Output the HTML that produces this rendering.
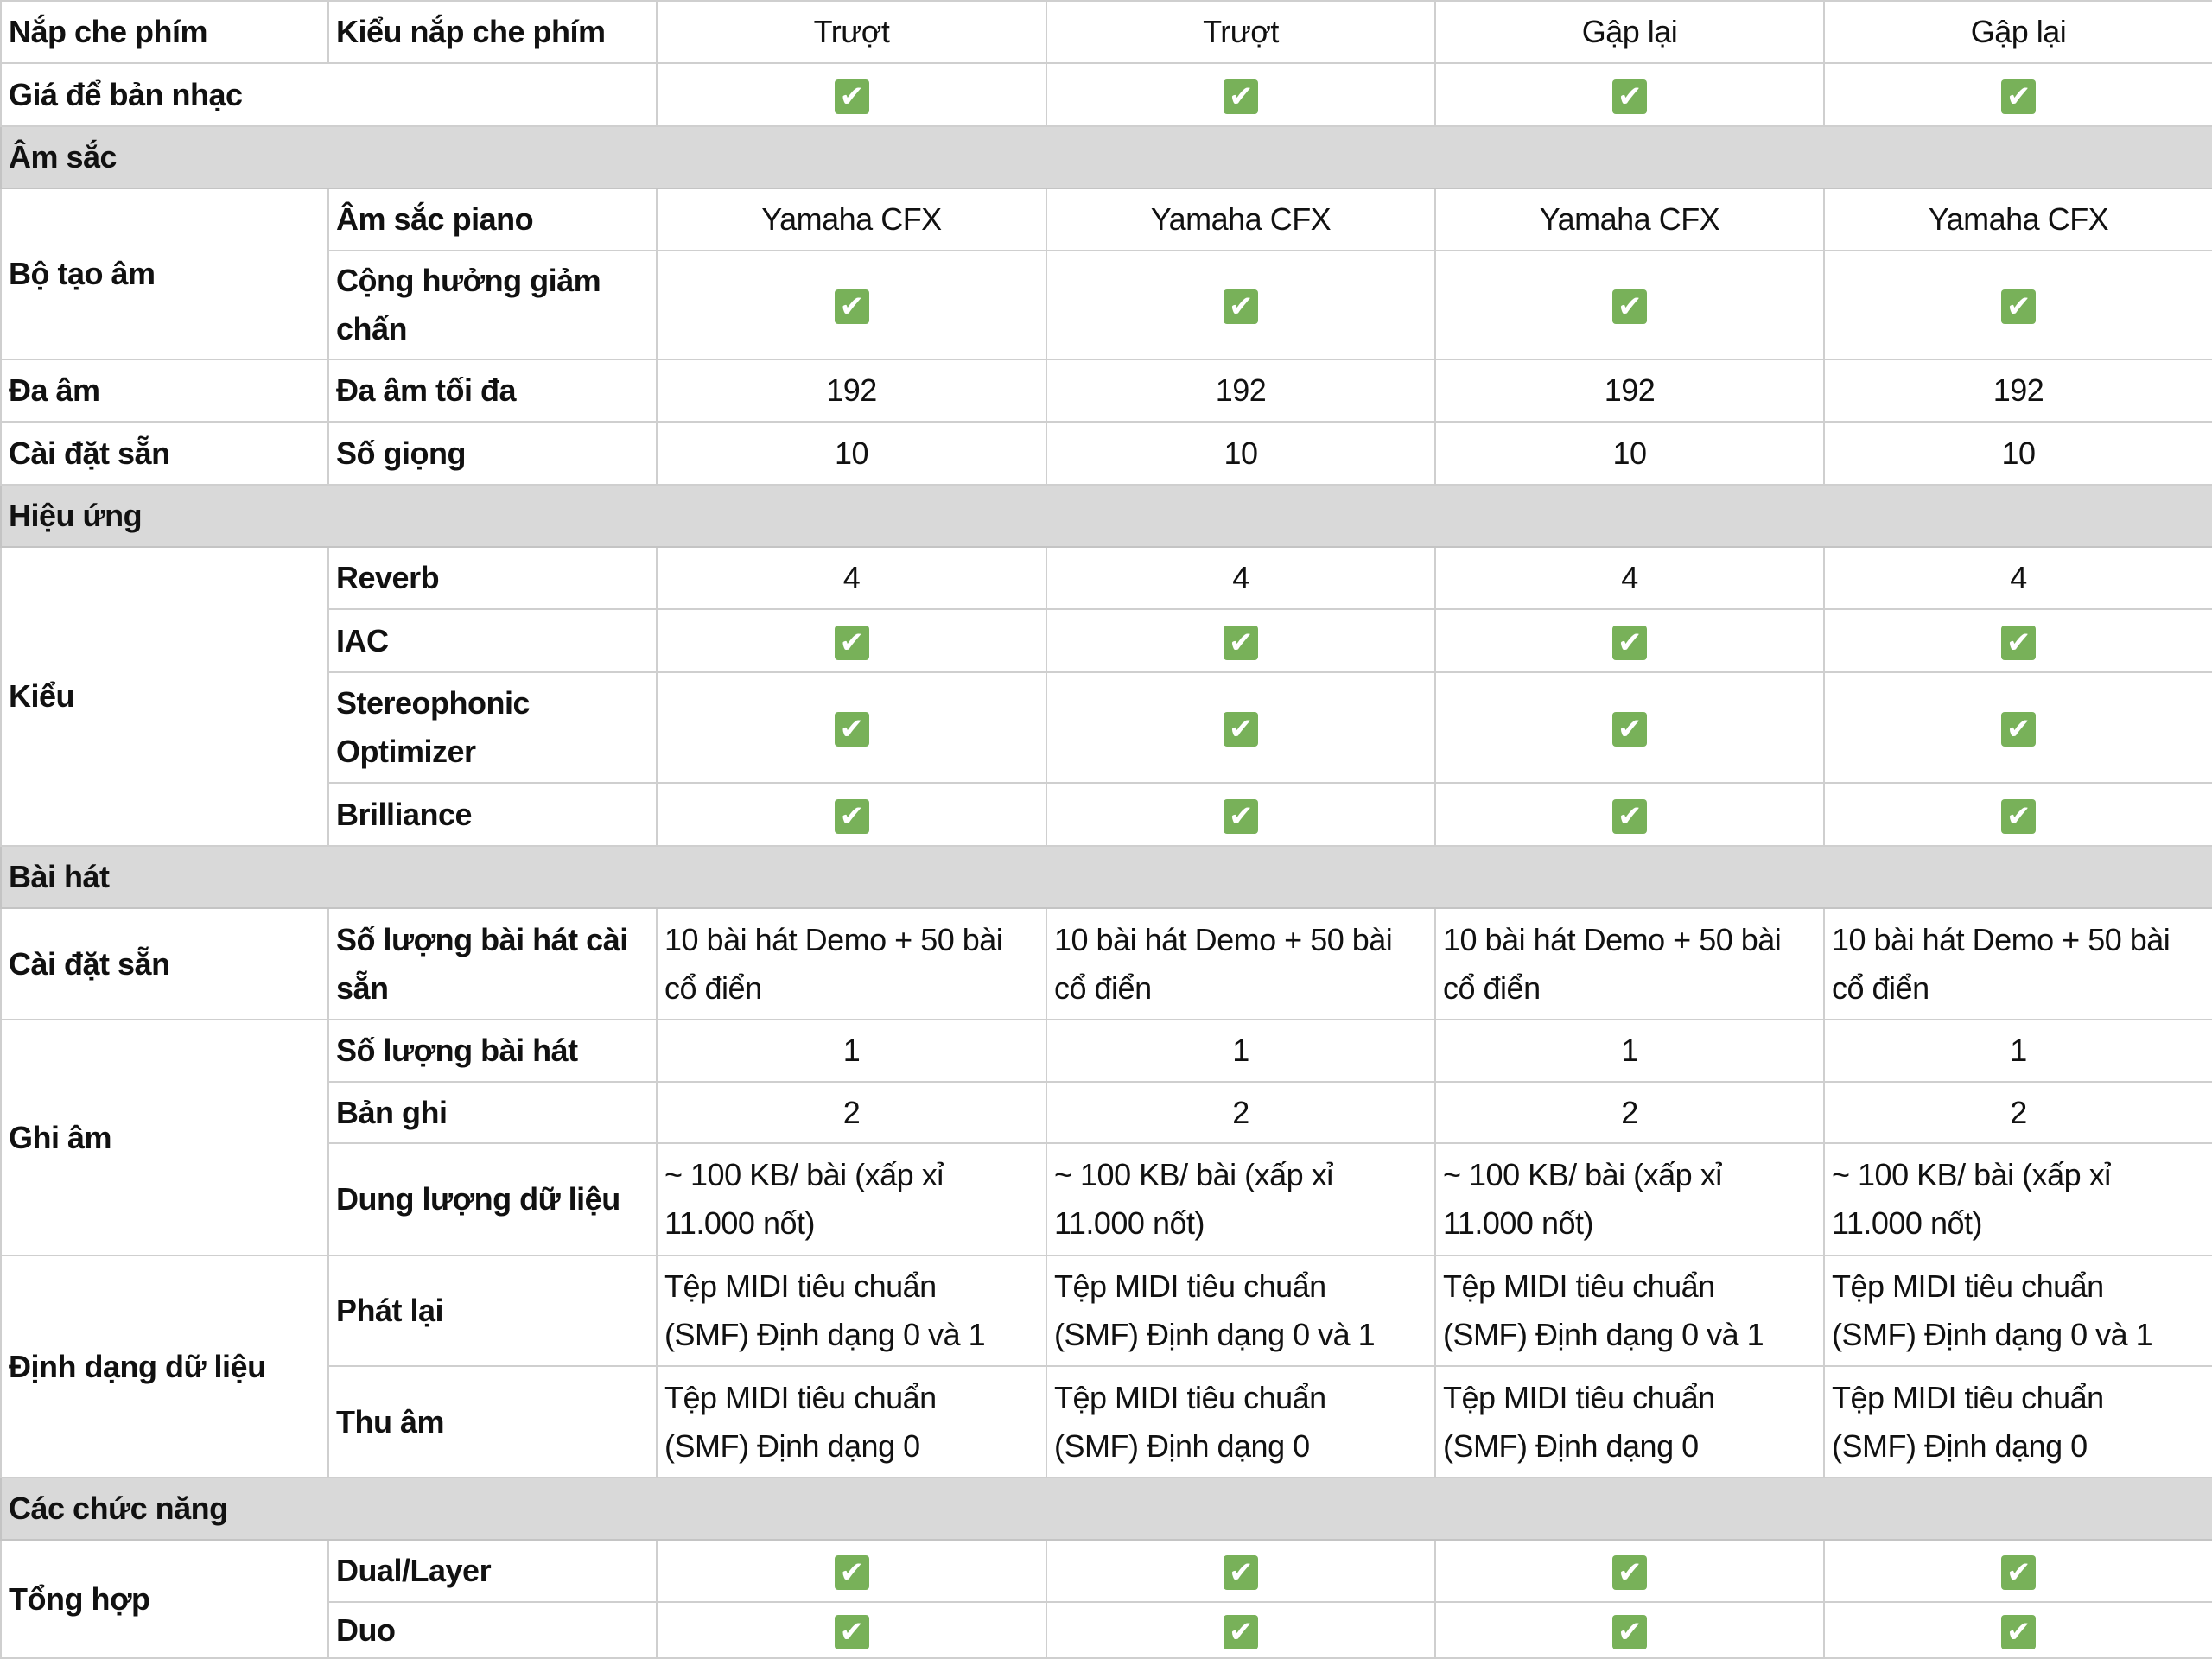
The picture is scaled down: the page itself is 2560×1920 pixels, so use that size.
<!DOCTYPE html>
<html><head><meta charset="utf-8"><style>
html,body{margin:0;padding:0;background:#fff;}
body{width:2560px;height:1920px;overflow:hidden;}
table{border-collapse:collapse;table-layout:fixed;width:2560px;font-family:"Liberation Sans Narrow","Liberation Sans",sans-serif;font-size:36px;letter-spacing:-0.5px;color:#111;}
td{border:2px solid #cfcfcf;padding:0 8px;line-height:56px;vertical-align:middle;overflow:hidden;}
td.b{font-weight:bold;}
td.c{text-align:center;}
tr.g td{background:#d9d9d9;font-weight:bold;border-color:#c4c4c4;}
.ck{display:inline-block;width:40px;height:40px;background:#78b159;border-radius:4px;color:#fff;font-size:34px;line-height:40px;text-align:center;font-weight:bold;vertical-align:middle;font-family:"DejaVu Sans",sans-serif;}
</style></head><body>
<table>
<colgroup><col style="width:379px"><col style="width:380px"><col style="width:451px"><col style="width:450px"><col style="width:450px"><col style="width:450px"></colgroup>
<tr style="height:72px"><td class="b">Nắp che phím</td><td class="b">Kiểu nắp che phím</td><td class="c">Trượt</td><td class="c">Trượt</td><td class="c">Gập lại</td><td class="c">Gập lại</td></tr>
<tr style="height:73px"><td class="b" colspan="2">Giá để bản nhạc</td><td class="c"><span class="ck">✔</span></td><td class="c"><span class="ck">✔</span></td><td class="c"><span class="ck">✔</span></td><td class="c"><span class="ck">✔</span></td></tr>
<tr class="g" style="height:72px"><td colspan="6">Âm sắc</td></tr>
<tr style="height:72px"><td class="b" rowspan="2">Bộ tạo âm</td><td class="b">Âm sắc piano</td><td class="c">Yamaha CFX</td><td class="c">Yamaha CFX</td><td class="c">Yamaha CFX</td><td class="c">Yamaha CFX</td></tr>
<tr style="height:126px"><td class="b">Cộng hưởng giảm chấn</td><td class="c"><span class="ck">✔</span></td><td class="c"><span class="ck">✔</span></td><td class="c"><span class="ck">✔</span></td><td class="c"><span class="ck">✔</span></td></tr>
<tr style="height:72px"><td class="b">Đa âm</td><td class="b">Đa âm tối đa</td><td class="c">192</td><td class="c">192</td><td class="c">192</td><td class="c">192</td></tr>
<tr style="height:73px"><td class="b">Cài đặt sẵn</td><td class="b">Số giọng</td><td class="c">10</td><td class="c">10</td><td class="c">10</td><td class="c">10</td></tr>
<tr class="g" style="height:72px"><td colspan="6">Hiệu ứng</td></tr>
<tr style="height:72px"><td class="b" rowspan="4">Kiểu</td><td class="b">Reverb</td><td class="c">4</td><td class="c">4</td><td class="c">4</td><td class="c">4</td></tr>
<tr style="height:73px"><td class="b">IAC</td><td class="c"><span class="ck">✔</span></td><td class="c"><span class="ck">✔</span></td><td class="c"><span class="ck">✔</span></td><td class="c"><span class="ck">✔</span></td></tr>
<tr style="height:128px"><td class="b">Stereophonic Optimizer</td><td class="c"><span class="ck">✔</span></td><td class="c"><span class="ck">✔</span></td><td class="c"><span class="ck">✔</span></td><td class="c"><span class="ck">✔</span></td></tr>
<tr style="height:73px"><td class="b">Brilliance</td><td class="c"><span class="ck">✔</span></td><td class="c"><span class="ck">✔</span></td><td class="c"><span class="ck">✔</span></td><td class="c"><span class="ck">✔</span></td></tr>
<tr class="g" style="height:72px"><td colspan="6">Bài hát</td></tr>
<tr style="height:129px"><td class="b">Cài đặt sẵn</td><td class="b">Số lượng bài hát cài sẵn</td><td>10 bài hát Demo + 50 bài cổ điển</td><td>10 bài hát Demo + 50 bài cổ điển</td><td>10 bài hát Demo + 50 bài cổ điển</td><td>10 bài hát Demo + 50 bài cổ điển</td></tr>
<tr style="height:72px"><td class="b" rowspan="3">Ghi âm</td><td class="b">Số lượng bài hát</td><td class="c">1</td><td class="c">1</td><td class="c">1</td><td class="c">1</td></tr>
<tr style="height:71px"><td class="b">Bản ghi</td><td class="c">2</td><td class="c">2</td><td class="c">2</td><td class="c">2</td></tr>
<tr style="height:130px"><td class="b">Dung lượng dữ liệu</td><td>~ 100 KB/ bài (xấp xỉ 11.000 nốt)</td><td>~ 100 KB/ bài (xấp xỉ 11.000 nốt)</td><td>~ 100 KB/ bài (xấp xỉ 11.000 nốt)</td><td>~ 100 KB/ bài (xấp xỉ 11.000 nốt)</td></tr>
<tr style="height:128px"><td class="b" rowspan="2">Định dạng dữ liệu</td><td class="b">Phát lại</td><td>Tệp MIDI tiêu chuẩn<br>(SMF) Định dạng 0 và 1</td><td>Tệp MIDI tiêu chuẩn<br>(SMF) Định dạng 0 và 1</td><td>Tệp MIDI tiêu chuẩn<br>(SMF) Định dạng 0 và 1</td><td>Tệp MIDI tiêu chuẩn<br>(SMF) Định dạng 0 và 1</td></tr>
<tr style="height:129px"><td class="b">Thu âm</td><td>Tệp MIDI tiêu chuẩn<br>(SMF) Định dạng 0</td><td>Tệp MIDI tiêu chuẩn<br>(SMF) Định dạng 0</td><td>Tệp MIDI tiêu chuẩn<br>(SMF) Định dạng 0</td><td>Tệp MIDI tiêu chuẩn<br>(SMF) Định dạng 0</td></tr>
<tr class="g" style="height:72px"><td colspan="6">Các chức năng</td></tr>
<tr style="height:72px"><td class="b" rowspan="2">Tổng hợp</td><td class="b">Dual/Layer</td><td class="c"><span class="ck">✔</span></td><td class="c"><span class="ck">✔</span></td><td class="c"><span class="ck">✔</span></td><td class="c"><span class="ck">✔</span></td></tr>
<tr style="height:65px"><td class="b">Duo</td><td class="c"><span class="ck">✔</span></td><td class="c"><span class="ck">✔</span></td><td class="c"><span class="ck">✔</span></td><td class="c"><span class="ck">✔</span></td></tr>
</table>
</body></html>
